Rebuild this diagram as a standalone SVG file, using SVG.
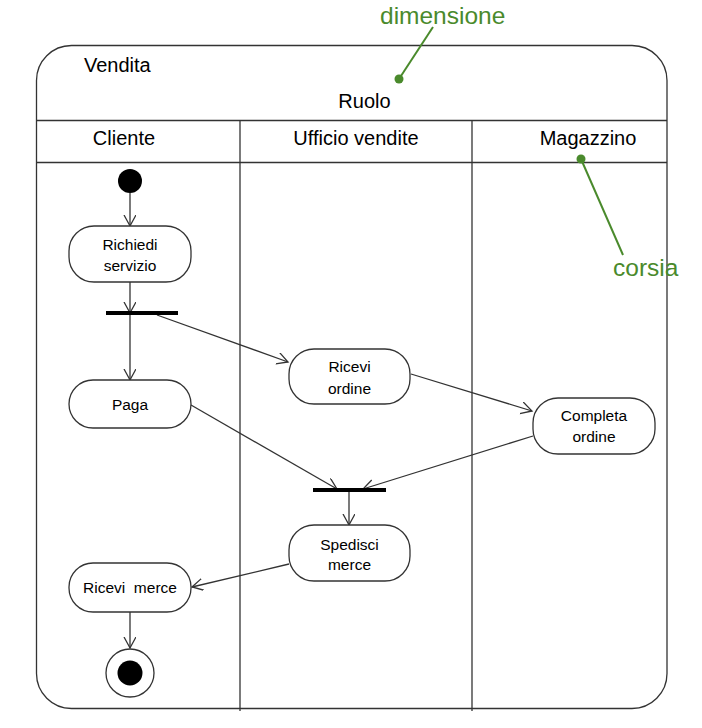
<svg xmlns="http://www.w3.org/2000/svg" width="702" height="728" viewBox="0 0 702 728">
<defs>
<style>
.ln{stroke:#333;stroke-width:1.3;fill:none}
.act{fill:#fff;stroke:#333;stroke-width:1.3}
.hd{font-family:"Liberation Sans",Arial,sans-serif;font-size:20px;fill:#000}
.nt{font-family:"Liberation Sans",Arial,sans-serif;font-size:15.5px;fill:#000;text-anchor:middle}
.ann{font-family:"Liberation Sans",Arial,sans-serif;font-size:24.5px;fill:#4a8a2c}
.gl{stroke:#4a8a2c;stroke-width:2;fill:none}
.bar{stroke:#000;stroke-width:4}
</style>
<marker id="arr" markerUnits="userSpaceOnUse" markerWidth="14" markerHeight="14" refX="11" refY="6" orient="auto">
<path d="M0,0 L11,6 L0,12" fill="none" stroke="#333" stroke-width="1.3"/>
</marker>
</defs>
<rect width="702" height="728" fill="#fff"/>
<g id="frame">
<rect x="36.5" y="45.5" width="630.5" height="663" rx="35" ry="35" class="ln"/>
<line x1="36.5" y1="120.5" x2="667" y2="120.5" class="ln"/>
<line x1="36.5" y1="162.5" x2="667" y2="162.5" class="ln"/>
<line x1="240" y1="120.5" x2="240" y2="711" class="ln"/>
<line x1="472" y1="120.5" x2="472" y2="711" class="ln"/>
<text x="84" y="72" class="hd">Vendita</text>
<text x="364.5" y="108" class="hd" text-anchor="middle">Ruolo</text>
<text x="124" y="145" class="hd" text-anchor="middle">Cliente</text>
<text x="356" y="145" class="hd" text-anchor="middle">Ufficio vendite</text>
<text x="588" y="145" class="hd" text-anchor="middle">Magazzino</text>
</g>
<g id="annotations">
<text x="380" y="24" class="ann">dimensione</text>
<line x1="433" y1="27" x2="399" y2="79" class="gl"/>
<circle cx="399" cy="79" r="4.5" fill="#4a8a2c"/>
<text x="613" y="276" class="ann">corsia</text>
<line x1="581" y1="159" x2="623" y2="255" class="gl"/>
<circle cx="581" cy="159" r="4.5" fill="#4a8a2c"/>
</g>
<g id="connectors">
<line x1="130" y1="193" x2="130" y2="226" class="ln" marker-end="url(#arr)"/>
<line x1="130" y1="282" x2="130" y2="313" class="ln" marker-end="url(#arr)"/>
<line x1="130" y1="313" x2="130" y2="380" class="ln" marker-end="url(#arr)"/>
<line x1="157" y1="315" x2="288" y2="362" class="ln" marker-end="url(#arr)"/>
<line x1="411" y1="374" x2="532" y2="411" class="ln" marker-end="url(#arr)"/>
<line x1="533" y1="436" x2="363" y2="489" class="ln" marker-end="url(#arr)"/>
<line x1="191" y1="405" x2="337" y2="489" class="ln" marker-end="url(#arr)"/>
<line x1="349" y1="490" x2="349" y2="525" class="ln" marker-end="url(#arr)"/>
<line x1="289" y1="564" x2="192" y2="587" class="ln" marker-end="url(#arr)"/>
<line x1="130" y1="612" x2="130" y2="648" class="ln" marker-end="url(#arr)"/>
</g>
<g id="initial">
<circle cx="130" cy="181" r="12" fill="#000"/>
</g>
<g id="richiedi-servizio">
<rect x="69" y="226" width="122" height="56" rx="25" class="act"/>
<text x="130" y="250" class="nt">Richiedi</text>
<text x="130" y="271" class="nt">servizio</text>
</g>
<g id="fork">
<line x1="106" y1="313" x2="178" y2="313" class="bar"/>
</g>
<g id="paga">
<rect x="69" y="380" width="122" height="48" rx="24" class="act"/>
<text x="130" y="410" class="nt">Paga</text>
</g>
<g id="ricevi-ordine">
<rect x="289" y="349" width="121" height="55" rx="25" class="act"/>
<text x="349.5" y="372" class="nt">Ricevi</text>
<text x="349.5" y="394" class="nt">ordine</text>
</g>
<g id="completa-ordine">
<rect x="533" y="398" width="122" height="56" rx="25" class="act"/>
<text x="594" y="421" class="nt">Completa</text>
<text x="594" y="442" class="nt">ordine</text>
</g>
<g id="join">
<line x1="313" y1="490" x2="386" y2="490" class="bar"/>
</g>
<g id="spedisci-merce">
<rect x="289" y="525" width="121" height="56" rx="25" class="act"/>
<text x="349.5" y="550" class="nt">Spedisci</text>
<text x="349.5" y="570" class="nt">merce</text>
</g>
<g id="ricevi-merce">
<rect x="69" y="563" width="122" height="49" rx="24" class="act"/>
<text x="130" y="593" class="nt" xml:space="preserve">Ricevi  merce</text>
</g>
<g id="final">
<circle cx="130" cy="673" r="24" class="act"/>
<circle cx="130" cy="673" r="12.5" fill="#000"/>
</g>
</svg>
